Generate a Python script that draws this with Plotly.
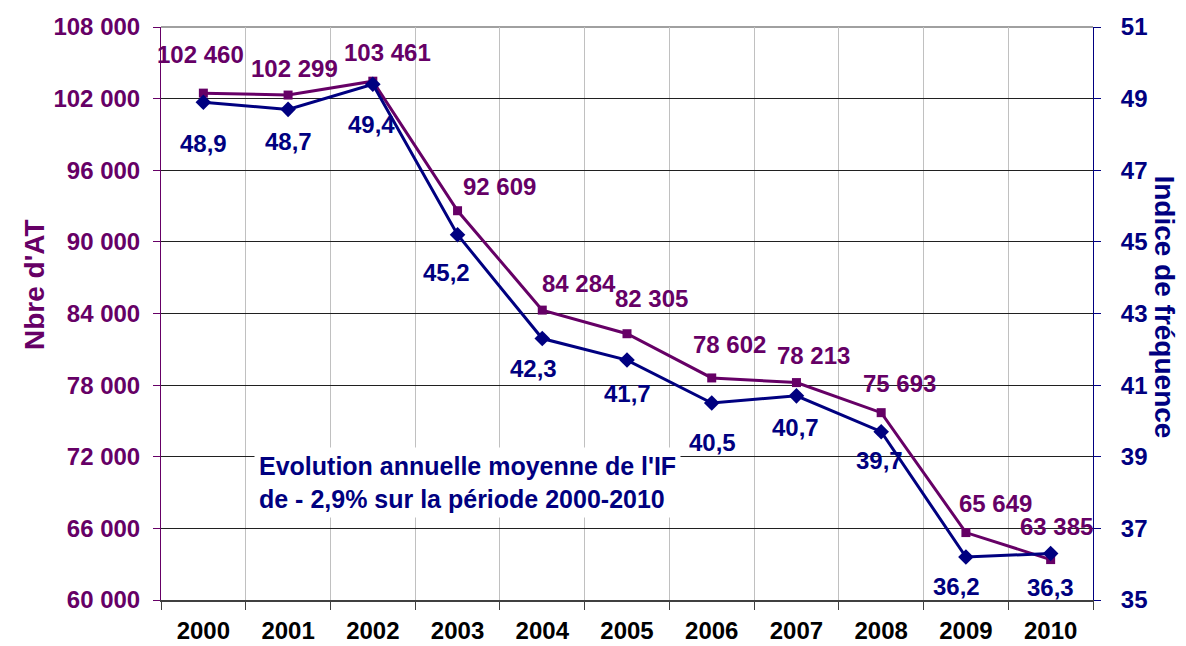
import plotly.graph_objects as go

# données
annees = ["2000", "2001", "2002", "2003", "2004", "2005", "2006", "2007", "2008", "2009", "2010"]
nbre_at = [102460, 102299, 103461, 92609, 84284, 82305, 78602, 78213, 75693, 65649, 63385]
indice_freq = [48.9, 48.7, 49.4, 45.2, 42.3, 41.7, 40.5, 40.7, 39.7, 36.2, 36.3]

POURPRE = "#660066"
MARINE = "#000080"
FONT = "Liberation Sans, Arial, sans-serif"

# décalage des étiquettes (px), comme dans le graphique Excel
at_dx = [-3, 6, 15, 42, 37, 24, 18, 17, 18, 30, 6]
at_dy = [39, 27, 29, 24, 27, 35, 33, 27, 29, 29, 33]
if_dx = [0, 0, -1, -11, -9, 0, 1, -1, -2, -9, 0]
if_dy = [-41, -32, -40, -38, -30, -33, -39, -32, -29, -29, -34]


def fmt_at(v):
    return f"{v:,}".replace(",", " ")


def fmt_if(v):
    return f"{v:.1f}".replace(".", ",")


fig = go.Figure()
fig.add_trace(go.Scatter(
    x=annees, y=nbre_at, name="Nbre d'AT", mode="lines+markers",
    line=dict(color=POURPRE, width=3),
    marker=dict(symbol="square", size=9, color=POURPRE),
))
fig.add_trace(go.Scatter(
    x=annees, y=indice_freq, name="Indice de fréquence", mode="lines+markers",
    yaxis="y2",
    line=dict(color=MARINE, width=3),
    marker=dict(symbol="diamond", size=12, color=MARINE),
))

annots = []
for i, a in enumerate(annees):
    # sur un axe catégoriel, l'annotation se place par l'indice de la catégorie
    annots.append(dict(x=i, y=nbre_at[i], xref="x", yref="y", text=fmt_at(nbre_at[i]),
                       showarrow=False, xshift=at_dx[i], yshift=at_dy[i],
                       font=dict(family=FONT, size=24, color=POURPRE, weight="bold")))
    annots.append(dict(x=i, y=indice_freq[i], xref="x", yref="y2", text=fmt_if(indice_freq[i]),
                       showarrow=False, xshift=if_dx[i], yshift=if_dy[i],
                       font=dict(family=FONT, size=24, color=MARINE, weight="bold")))

annots.append(dict(
    x=0.1, y=0.205, xref="paper", yref="paper", xanchor="left", yanchor="middle",
    text="Evolution annuelle moyenne de l'IF<br>de - 2,9% sur la période 2000-2010",
    showarrow=False, align="left", bgcolor="white", borderpad=4,
    font=dict(family=FONT, size=25, color=MARINE, weight="bold"),
))
annots.append(dict(
    x=-0.135, y=0.55, xref="paper", yref="paper", xanchor="center", yanchor="middle",
    text="Nbre d'AT", textangle=-90,
    showarrow=False, font=dict(family=FONT, size=28, color=POURPRE, weight="bold"),
))
annots.append(dict(
    x=1.077, y=0.511, xref="paper", yref="paper", xanchor="center", yanchor="middle",
    text="Indice de fréquence", textangle=90,
    showarrow=False, font=dict(family=FONT, size=28, color=MARINE, weight="bold"),
))

fig.update_layout(
    width=1186, height=646,
    margin=dict(l=153, r=101, t=19, b=54),
    paper_bgcolor="white", plot_bgcolor="white",
    showlegend=False,
    separators=", ",
    font=dict(family=FONT),
    xaxis=dict(
        type="category", tickson="boundaries", range=[-0.5, 10.5], automargin=False,
        showgrid=True, gridcolor="#c0c0c0", gridwidth=1,
        showline=True, linecolor="#404040", linewidth=1.5,
        ticks="outside", ticklen=8, tickcolor="#404040",
        ticklabelstandoff=8,
        tickfont=dict(size=24, color="black", weight="bold"),
    ),
    yaxis=dict(
        range=[60000, 108000], tick0=60000, dtick=6000, tickformat=",d", automargin=False,
        showgrid=True, gridcolor="#202020", gridwidth=1,
        showline=True, linecolor=POURPRE, linewidth=1,
        ticks="outside", ticklen=7, tickcolor=POURPRE,
        ticklabelstandoff=8,
        tickfont=dict(size=24, color=POURPRE, weight="bold"),
        zeroline=False,
    ),
    yaxis2=dict(
        range=[35, 51], tick0=35, dtick=2, overlaying="y", side="right", automargin=False,
        showgrid=False,
        showline=True, linecolor=MARINE, linewidth=1,
        ticks="outside", ticklen=7, tickcolor=MARINE,
        ticklabelstandoff=15,
        tickfont=dict(size=24, color=MARINE, weight="bold"),
        zeroline=False,
    ),
    annotations=annots,
    shapes=[dict(type="line", xref="paper", yref="paper", x0=0, x1=1, y0=1, y1=1,
                 line=dict(color="#808080", width=1.5), layer="below")],
)

fig.write_html("out.html")
